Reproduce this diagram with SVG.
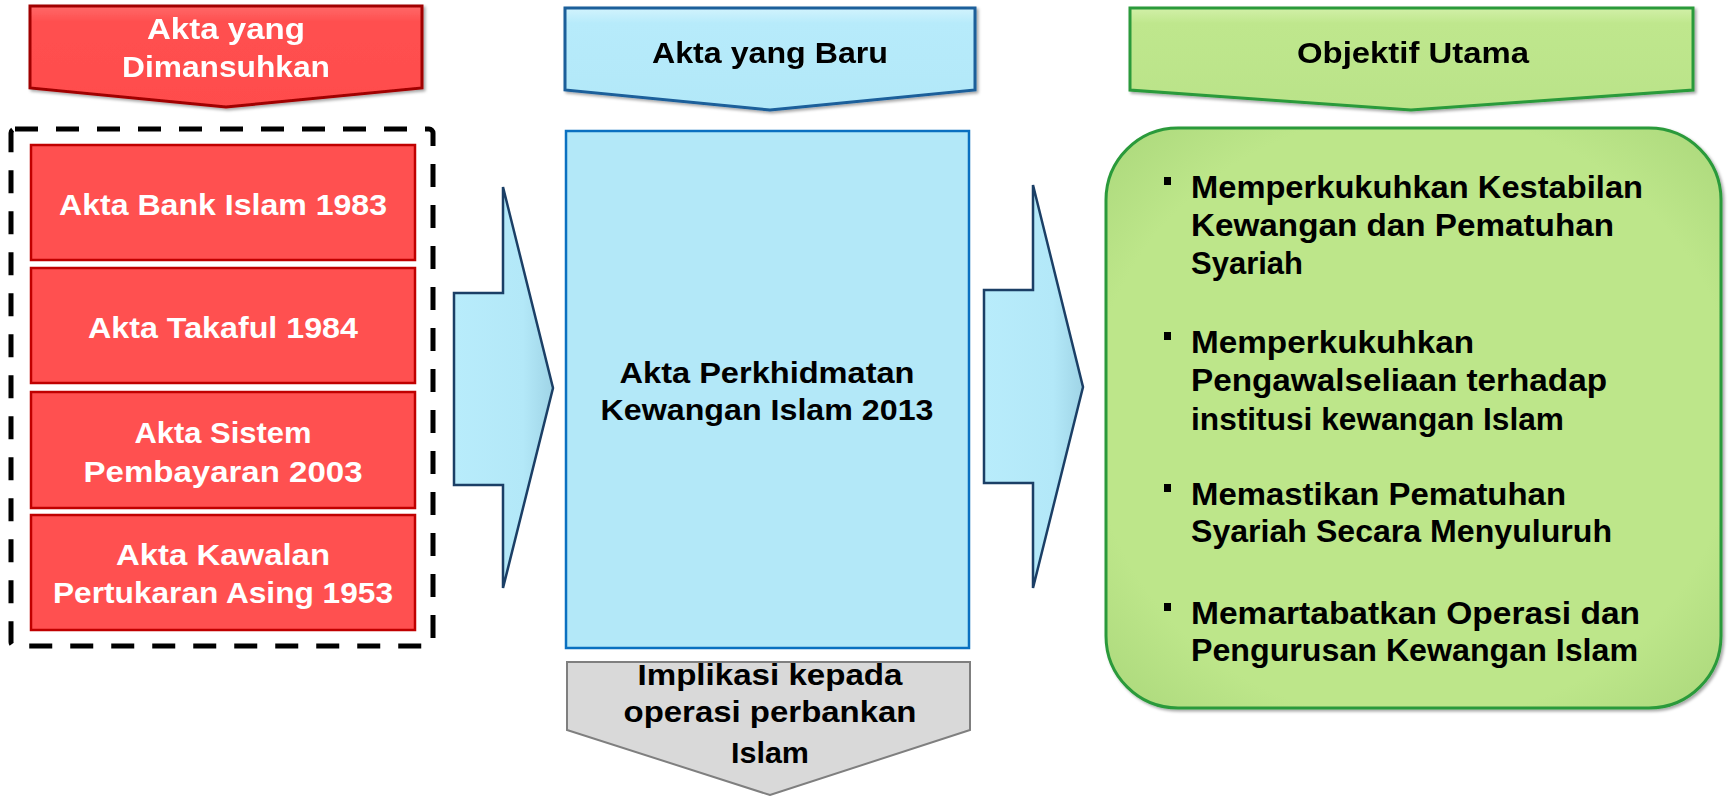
<svg xmlns="http://www.w3.org/2000/svg" width="1729" height="796" viewBox="0 0 1729 796">
  <defs>
    <linearGradient id="gRed" x1="0" y1="0" x2="0" y2="1">
      <stop offset="0" stop-color="#FF6A6A"/>
      <stop offset="0.15" stop-color="#FF5050"/>
      <stop offset="1" stop-color="#FF4C4C"/>
    </linearGradient>
    <linearGradient id="gBlue" x1="0" y1="0" x2="0" y2="1">
      <stop offset="0" stop-color="#D2F3FD"/>
      <stop offset="0.15" stop-color="#B7EBFB"/>
      <stop offset="1" stop-color="#B2E8F8"/>
    </linearGradient>
    <linearGradient id="gGreen" x1="0" y1="0" x2="0" y2="1">
      <stop offset="0" stop-color="#D2F0A8"/>
      <stop offset="0.15" stop-color="#BFE78D"/>
      <stop offset="1" stop-color="#BAE389"/>
    </linearGradient>
    <radialGradient id="gPanel" cx="0.5" cy="0.5" r="0.75">
      <stop offset="0.7" stop-color="#BDE68A"/>
      <stop offset="1" stop-color="#A6D477"/>
    </radialGradient>
    <linearGradient id="gArrow" x1="0" y1="0" x2="1" y2="0">
      <stop offset="0" stop-color="#B8ECFB"/>
      <stop offset="0.7" stop-color="#B3E8F8"/>
      <stop offset="1" stop-color="#9FD4E6"/>
    </linearGradient>
    <filter id="shade" x="-5%" y="-5%" width="110%" height="115%">
      <feDropShadow dx="2" dy="2" stdDeviation="1.5" flood-color="#000" flood-opacity="0.35"/>
    </filter>
  </defs>
  <style>
    text { font-family: "Liberation Sans", Arial, sans-serif; font-weight: bold; }
    .w { fill: #FFFFFF; font-size: 30px; text-anchor: middle; }
    .k { fill: #000000; font-size: 30px; text-anchor: middle; }
    .b { fill: #000000; font-size: 32px; }
    .redbox { fill: #FF5050; stroke: #C00000; stroke-width: 2.5; }
    .arrow { fill: url(#gArrow); stroke: #1B3F66; stroke-width: 2.5; stroke-linejoin: miter; }
    .bullet { fill: #000000; }
  </style>

  <!-- column headers -->
  <g id="header-repealed" filter="url(#shade)">
    <polygon points="30,6 422,6 422,88 226,107 30,88" fill="url(#gRed)" stroke="#A00000" stroke-width="3"/>
    <text class="w" x="226" y="39" textLength="158" lengthAdjust="spacingAndGlyphs">Akta yang</text>
    <text class="w" x="226" y="77" textLength="208" lengthAdjust="spacingAndGlyphs">Dimansuhkan</text>
  </g>
  <g id="header-new" filter="url(#shade)">
    <polygon points="565,8 975,8 975,90 770,110 565,90" fill="url(#gBlue)" stroke="#1A5E9A" stroke-width="3"/>
    <text class="k" x="770" y="63" textLength="236" lengthAdjust="spacingAndGlyphs">Akta yang Baru</text>
  </g>
  <g id="header-objective" filter="url(#shade)">
    <polygon points="1130,8 1693,8 1693,90 1411,110 1130,90" fill="url(#gGreen)" stroke="#2A9A3A" stroke-width="3"/>
    <text class="k" x="1413" y="63" textLength="232" lengthAdjust="spacingAndGlyphs">Objektif Utama</text>
  </g>

  <!-- repealed acts -->
  <g id="repealed-group">
    <rect x="11" y="129" width="422" height="517" rx="4" fill="none" stroke="#000" stroke-width="5" stroke-dasharray="23 18"/>
  </g>
  <g id="act-bank-islam">
    <rect class="redbox" x="31" y="145" width="384" height="115"/>
    <text class="w" x="223" y="215" font-size="31" textLength="328" lengthAdjust="spacingAndGlyphs">Akta Bank Islam 1983</text>
  </g>
  <g id="act-takaful">
    <rect class="redbox" x="31" y="268" width="384" height="115"/>
    <text class="w" x="223" y="338" font-size="31" textLength="270" lengthAdjust="spacingAndGlyphs">Akta Takaful 1984</text>
  </g>
  <g id="act-payment-system">
    <rect class="redbox" x="31" y="392" width="384" height="116"/>
    <text class="w" x="223" y="443" font-size="31" textLength="177" lengthAdjust="spacingAndGlyphs">Akta Sistem</text>
    <text class="w" x="223" y="482" font-size="31" textLength="279" lengthAdjust="spacingAndGlyphs">Pembayaran 2003</text>
  </g>
  <g id="act-exchange-control">
    <rect class="redbox" x="31" y="515" width="384" height="115"/>
    <text class="w" x="223" y="565" font-size="31" textLength="214" lengthAdjust="spacingAndGlyphs">Akta Kawalan</text>
    <text class="w" x="223" y="603" font-size="31" textLength="340" lengthAdjust="spacingAndGlyphs">Pertukaran Asing 1953</text>
  </g>

  <!-- new act -->
  <g id="act-ifsa">
    <rect x="566" y="131" width="403" height="517" fill="#B3E8F8" stroke="#0A70C0" stroke-width="2.5"/>
    <text class="k" x="767" y="383" font-size="31" textLength="295" lengthAdjust="spacingAndGlyphs">Akta Perkhidmatan</text>
    <text class="k" x="767" y="420" font-size="31" textLength="333" lengthAdjust="spacingAndGlyphs">Kewangan Islam 2013</text>
  </g>

  <!-- implication -->
  <g id="implication">
    <polygon points="567,662 970,662 970,730 770,795 567,730" fill="#D9D9D9" stroke="#7F7F7F" stroke-width="2"/>
    <text class="k" x="770" y="685" font-size="31" textLength="265" lengthAdjust="spacingAndGlyphs">Implikasi kepada</text>
    <text class="k" x="770" y="722" font-size="31" textLength="293" lengthAdjust="spacingAndGlyphs">operasi perbankan</text>
    <text class="k" x="770" y="763" font-size="31" textLength="78" lengthAdjust="spacingAndGlyphs">Islam</text>
  </g>

  <!-- objectives -->
  <g id="objectives">
    <rect x="1106" y="128" width="615" height="580" rx="72" ry="72" fill="url(#gPanel)" stroke="#2A9A3A" stroke-width="3" filter="url(#shade)"/>
    <rect class="bullet" x="1164" y="177" width="7" height="8"/>
    <text class="b" x="1191" y="198" textLength="452" lengthAdjust="spacingAndGlyphs">Memperkukuhkan Kestabilan</text>
    <text class="b" x="1191" y="236" textLength="423" lengthAdjust="spacingAndGlyphs">Kewangan dan Pematuhan</text>
    <text class="b" x="1191" y="274" textLength="112" lengthAdjust="spacingAndGlyphs">Syariah</text>

    <rect class="bullet" x="1164" y="332" width="7" height="8"/>
    <text class="b" x="1191" y="353" textLength="283" lengthAdjust="spacingAndGlyphs">Memperkukuhkan</text>
    <text class="b" x="1191" y="391" textLength="416" lengthAdjust="spacingAndGlyphs">Pengawalseliaan terhadap</text>
    <text class="b" x="1191" y="430" textLength="373" lengthAdjust="spacingAndGlyphs">institusi kewangan Islam</text>

    <rect class="bullet" x="1164" y="484" width="7" height="8"/>
    <text class="b" x="1191" y="505" textLength="375" lengthAdjust="spacingAndGlyphs">Memastikan Pematuhan</text>
    <text class="b" x="1191" y="542" textLength="421" lengthAdjust="spacingAndGlyphs">Syariah Secara Menyuluruh</text>

    <rect class="bullet" x="1164" y="603" width="7" height="8"/>
    <text class="b" x="1191" y="624" textLength="449" lengthAdjust="spacingAndGlyphs">Memartabatkan Operasi dan</text>
    <text class="b" x="1191" y="661" textLength="447" lengthAdjust="spacingAndGlyphs">Pengurusan Kewangan Islam</text>
  </g>

  <!-- flow arrows -->
  <g id="connectors">
    <polygon class="arrow" points="454,293 503,293 503,187 553,388 503,588 503,485 454,485"/>
    <polygon class="arrow" points="984,290 1033,290 1033,185 1083,387 1033,588 1033,483 984,483"/>
  </g>
</svg>
